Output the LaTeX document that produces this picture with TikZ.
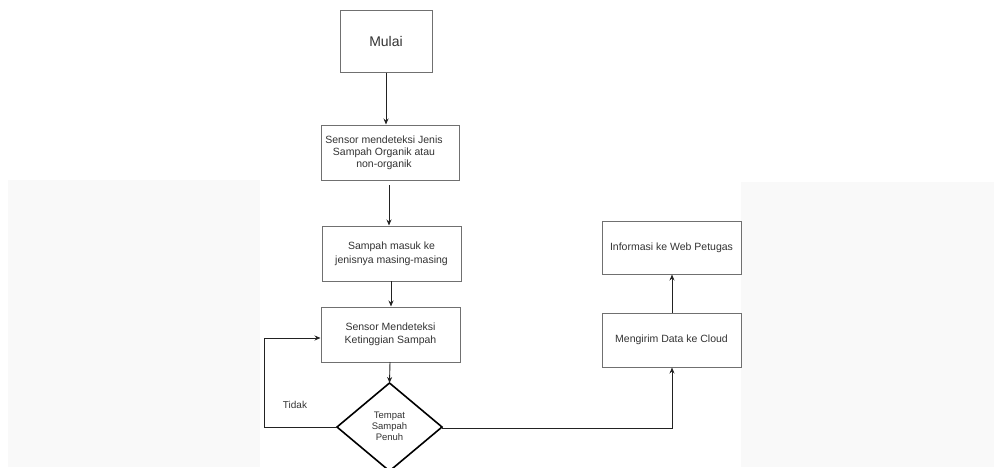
\documentclass[tikz,border=0pt]{standalone}
\usepackage{fontspec}
\setmainfont{Liberation Sans}
\usetikzlibrary{shapes.geometric,arrows.meta}
\definecolor{panel}{HTML}{F9F9F9}
\definecolor{boxline}{HTML}{707070}
\definecolor{txt}{HTML}{333333}
\definecolor{arr}{HTML}{222222}
\tikzset{
  procbox/.style={draw=boxline,line width=1pt,fill=white,inner sep=0pt},
  lbl/.style={text=txt,font=\fontsize{10.5}{13}\selectfont,align=center,inner sep=0pt},
  flow/.style={draw=arr,line width=0.9pt,-{Stealth[length=6pt,width=5pt]}},
  plain/.style={draw=arr,line width=0.9pt},
}
\begin{document}
\begin{tikzpicture}[x=1pt,y=-1pt]
\useasboundingbox (0,0) rectangle (994,467);
% faint background panels
\fill[panel] (8,180) rectangle (260,467);
\fill[panel] (741,182) rectangle (994,467);
% boxes
\node[procbox,minimum width=92pt,minimum height=62pt] (mulai) at (386,41) {};
\node[lbl,font=\fontsize{14}{16}\selectfont] at (mulai.center) {Mulai};
\node[procbox,minimum width=138pt,minimum height=55pt] (sensor) at (390,152.5) {};
\node[lbl,font=\fontsize{10.5}{12}\selectfont] at (384,153) {Sensor mendeteksi Jenis\\Sampah Organik atau\\non-organik};
\node[procbox,minimum width=139pt,minimum height=55pt] (masuk) at (391.5,253.5) {};
\node[lbl,font=\fontsize{10.5}{13.5}\selectfont] at (391.5,254) {Sampah masuk ke\\jenisnya masing-masing};
\node[procbox,minimum width=139pt,minimum height=55pt] (tinggi) at (390.5,334.5) {};
\node[lbl,font=\fontsize{10.5}{13}\selectfont] at (390.5,334.5) {Sensor Mendeteksi\\Ketinggian Sampah};
\node[procbox,minimum width=139pt,minimum height=54pt] (cloud) at (671.5,340) {};
\node[lbl] at (cloud.center) {Mengirim Data ke Cloud};
\node[procbox,minimum width=139pt,minimum height=53pt] (web) at (671.5,247.5) {};
\node[lbl] at (web.center) {Informasi ke Web Petugas};
% decision diamond
\coordinate (dc) at (389.5,427);
\draw[black,line width=1.6pt,fill=white] (389.5,383) coordinate (dtop) -- (442,427) coordinate (dright) -- (389.5,471) -- (337,427) coordinate (dleft) -- cycle;
\node[lbl,font=\fontsize{9.5}{11}\selectfont] (dtext) at (389.5,426) {Tempat\\Sampah\\Penuh};
% connectors
\draw[flow] (mulai.south) -- (sensor.north -| mulai.south);
\draw[flow] (389,185) coordinate (s2) -- (masuk.north -| s2);
\draw[flow] (391,281) coordinate (s3) -- (tinggi.north -| s3);
\draw[flow] (390,362) coordinate (s4) -- (dtop);
\coordinate (lc) at (264,427);
\draw[flow] (dleft) -- (lc) -- (lc |- 338,338) -- (tinggi.west |- 338,338);
\node[lbl,font=\fontsize{10}{12}\selectfont] (tidak) at (295,405) {Tidak};
\coordinate (rc) at (672,428);
\draw[flow] (dright) -- (442,428) -- (rc) -- (rc |- cloud.south);
\draw[flow] (cloud.north -| rc) -- (web.south -| rc);
\end{tikzpicture}
\end{document}
